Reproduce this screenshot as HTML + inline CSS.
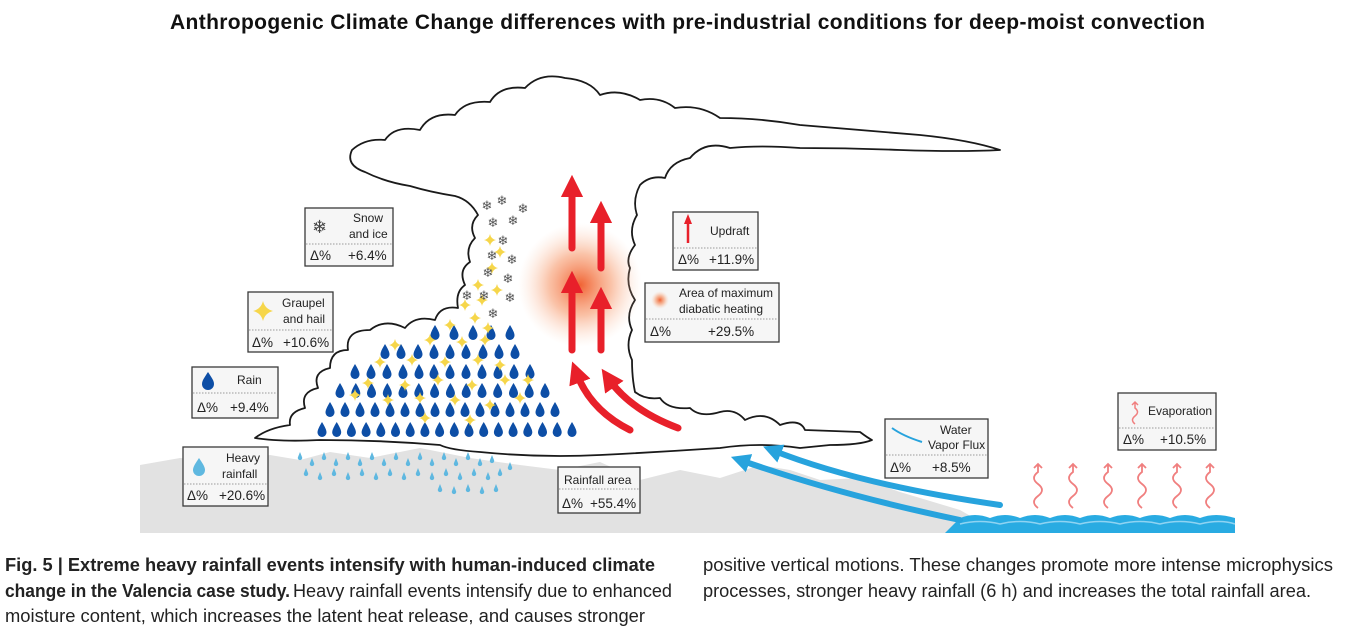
<!DOCTYPE html>
<html><head><meta charset="utf-8"><style>
html,body{margin:0;padding:0;background:#fff;}
svg{display:block;}
.bx{fill:#f6f6f6;stroke:#3a3a3a;stroke-width:1.3;}
.dv{stroke:#999;stroke-width:1;stroke-dasharray:1.5 1.5;}
.t{font-family:"Liberation Sans",sans-serif;font-size:12px;fill:#222;}
.d{font-family:"Liberation Sans",sans-serif;font-size:13.5px;fill:#222;}
.cap{font-family:"Liberation Sans Narrow","Liberation Sans",sans-serif;font-size:18px;fill:#222;}
</style></head><body>
<svg width="1353" height="631" viewBox="0 0 1353 631" xmlns="http://www.w3.org/2000/svg">
<defs>
<path id="dr" d="M0,-8 C3,-3 4.5,0 4.5,2.5 A4.5,4.5 0 0 1 -4.5,2.5 C-4.5,0 -3,-3 0,-8Z"/>
<path id="st" d="M0,-6 Q1,-1 6,0 Q1,1 0,6 Q-1,1 -6,0 Q-1,-1 0,-6Z"/>
<radialGradient id="glow"><stop offset="0" stop-color="#f05a28" stop-opacity="0.95"/><stop offset="0.5" stop-color="#f6905f" stop-opacity="0.55"/><stop offset="1" stop-color="#fbd0b8" stop-opacity="0"/></radialGradient>
<marker id="ar" viewBox="0 0 10 10" refX="5" refY="5" markerWidth="3.2" markerHeight="3.4" orient="auto"><path d="M0,0 L10,5 L0,10Z" fill="#e8202a"/></marker>
<marker id="ab" viewBox="0 0 10 10" refX="5" refY="5" markerWidth="3.2" markerHeight="3.4" orient="auto"><path d="M0,0 L10,5 L0,10Z" fill="#27a3dd"/></marker>
</defs>

<text x="170" y="29" textLength="1035" font-family="Liberation Sans,sans-serif" font-weight="bold" font-size="21" fill="#111">Anthropogenic Climate Change differences with pre-industrial conditions for deep-moist convection</text>

<path d="M140,465 L180,458 L230,462 L270,455 L300,460 L330,452 L370,458 L420,448 L470,458 L520,465 L560,470 L600,462 L640,480 L680,470 L720,478 L760,465 L790,470 L820,480 L860,478 L900,492 L960,510 L1000,533 L140,533Z" fill="#e2e2e2"/>
<path d="M960,518 Q975,512 990,518 Q1005,512 1020,518 Q1035,512 1050,518 Q1065,512 1080,518 Q1095,512 1110,518 Q1125,512 1140,518 Q1155,512 1170,518 Q1185,512 1200,518 Q1215,512 1235,518 L1235,533 L945,533Z" fill="#29abe2"/>
<path d="M960,524 Q980,519 1000,524 Q1020,519 1040,524 Q1060,519 1080,524 Q1100,519 1120,524 Q1140,519 1160,524 Q1180,519 1200,524 Q1220,519 1235,524" fill="none" stroke="#8fd3f2" stroke-width="1.5"/>

<path d="M255,438 Q268,428 290,425 Q288,412 305,408 Q300,392 318,388 Q312,372 330,368 Q330,350 348,350 Q345,330 370,330 Q385,318 405,328 Q415,315 435,320 Q440,305 458,308 Q455,292 465,285 Q458,270 470,262 Q465,248 475,238 Q468,225 478,215 Q470,200 455,196 Q430,192 410,186 Q385,182 365,172 Q345,165 352,150 Q365,138 385,140 Q395,125 420,130 Q430,112 455,115 Q465,100 490,102 Q500,85 525,88 Q540,72 565,78 Q590,80 600,95 Q620,88 640,100 Q660,96 675,108 Q700,104 720,118 Q760,118 800,125 Q860,130 920,135 Q970,140 1000,150 Q960,152 900,150 Q850,148 800,148 Q760,145 730,148 Q705,140 690,158 Q670,162 665,178 Q650,175 640,185 Q632,200 637,215 Q628,230 635,245 Q625,258 630,268 Q625,285 635,300 Q625,315 632,330 Q625,345 632,360 Q632,378 635,392 Q645,400 660,398 Q668,410 690,408 Q700,418 720,412 Q735,408 745,420 Q765,410 780,425 Q800,418 805,430 L860,432 Q868,438 872,440 Q860,445 830,445 L800,448 Q760,442 720,448 Q660,452 600,455 Q540,458 480,452 Q450,450 440,445 Q380,440 320,440 Q280,442 255,438Z" fill="#fff" stroke="#1a1a1a" stroke-width="1.8" stroke-linejoin="round"/>

<circle cx="580" cy="285" r="62" fill="url(#glow)"/>

<g fill="#0d4ea6">
<use href="#dr" x="322" y="430"/><use href="#dr" x="336.7" y="430"/><use href="#dr" x="351.4" y="430"/><use href="#dr" x="366.1" y="430"/><use href="#dr" x="380.8" y="430"/><use href="#dr" x="395.5" y="430"/><use href="#dr" x="410.2" y="430"/><use href="#dr" x="424.9" y="430"/><use href="#dr" x="439.6" y="430"/><use href="#dr" x="454.3" y="430"/><use href="#dr" x="469" y="430"/><use href="#dr" x="483.7" y="430"/><use href="#dr" x="498.4" y="430"/><use href="#dr" x="513.1" y="430"/><use href="#dr" x="527.8" y="430"/><use href="#dr" x="542.5" y="430"/><use href="#dr" x="557.2" y="430"/><use href="#dr" x="572" y="430"/>
<use href="#dr" x="330" y="410"/><use href="#dr" x="345" y="410"/><use href="#dr" x="360" y="410"/><use href="#dr" x="375" y="410"/><use href="#dr" x="390" y="410"/><use href="#dr" x="405" y="410"/><use href="#dr" x="420" y="410"/><use href="#dr" x="435" y="410"/><use href="#dr" x="450" y="410"/><use href="#dr" x="465" y="410"/><use href="#dr" x="480" y="410"/><use href="#dr" x="495" y="410"/><use href="#dr" x="510" y="410"/><use href="#dr" x="525" y="410"/><use href="#dr" x="540" y="410"/><use href="#dr" x="555" y="410"/>
<use href="#dr" x="340" y="391"/><use href="#dr" x="355.8" y="391"/><use href="#dr" x="371.5" y="391"/><use href="#dr" x="387.3" y="391"/><use href="#dr" x="403" y="391"/><use href="#dr" x="418.8" y="391"/><use href="#dr" x="434.6" y="391"/><use href="#dr" x="450.4" y="391"/><use href="#dr" x="466.2" y="391"/><use href="#dr" x="482" y="391"/><use href="#dr" x="497.7" y="391"/><use href="#dr" x="513.5" y="391"/><use href="#dr" x="529.2" y="391"/><use href="#dr" x="545" y="391"/>
<use href="#dr" x="355" y="372"/><use href="#dr" x="371" y="372"/><use href="#dr" x="387" y="372"/><use href="#dr" x="403" y="372"/><use href="#dr" x="419" y="372"/><use href="#dr" x="434" y="372"/><use href="#dr" x="450" y="372"/><use href="#dr" x="466" y="372"/><use href="#dr" x="482" y="372"/><use href="#dr" x="498" y="372"/><use href="#dr" x="514" y="372"/><use href="#dr" x="530" y="372"/>
<use href="#dr" x="385" y="352"/><use href="#dr" x="401" y="352"/><use href="#dr" x="418" y="352"/><use href="#dr" x="434" y="352"/><use href="#dr" x="450" y="352"/><use href="#dr" x="466" y="352"/><use href="#dr" x="483" y="352"/><use href="#dr" x="499" y="352"/><use href="#dr" x="515" y="352"/>
<use href="#dr" x="435" y="333"/><use href="#dr" x="454" y="333"/><use href="#dr" x="473" y="333"/><use href="#dr" x="491" y="333"/><use href="#dr" x="510" y="333"/>
</g>
<g fill="#5fb8e0">
<path d="M300,452 l2,5 a2.2,2.2 0 1 1 -4,0z M312,458 l2,5 a2.2,2.2 0 1 1 -4,0z M324,452 l2,5 a2.2,2.2 0 1 1 -4,0z M336,458 l2,5 a2.2,2.2 0 1 1 -4,0z M348,452 l2,5 a2.2,2.2 0 1 1 -4,0z M360,458 l2,5 a2.2,2.2 0 1 1 -4,0z M372,452 l2,5 a2.2,2.2 0 1 1 -4,0z M384,458 l2,5 a2.2,2.2 0 1 1 -4,0z M396,452 l2,5 a2.2,2.2 0 1 1 -4,0z M408,458 l2,5 a2.2,2.2 0 1 1 -4,0z M420,452 l2,5 a2.2,2.2 0 1 1 -4,0z M432,458 l2,5 a2.2,2.2 0 1 1 -4,0z M444,452 l2,5 a2.2,2.2 0 1 1 -4,0z M456,458 l2,5 a2.2,2.2 0 1 1 -4,0z M468,452 l2,5 a2.2,2.2 0 1 1 -4,0z M480,458 l2,5 a2.2,2.2 0 1 1 -4,0z M492,455 l2,5 a2.2,2.2 0 1 1 -4,0z
M306,468 l2,5 a2.2,2.2 0 1 1 -4,0z M320,472 l2,5 a2.2,2.2 0 1 1 -4,0z M334,468 l2,5 a2.2,2.2 0 1 1 -4,0z M348,472 l2,5 a2.2,2.2 0 1 1 -4,0z M362,468 l2,5 a2.2,2.2 0 1 1 -4,0z M376,472 l2,5 a2.2,2.2 0 1 1 -4,0z M390,468 l2,5 a2.2,2.2 0 1 1 -4,0z M404,472 l2,5 a2.2,2.2 0 1 1 -4,0z M418,468 l2,5 a2.2,2.2 0 1 1 -4,0z M432,472 l2,5 a2.2,2.2 0 1 1 -4,0z M446,468 l2,5 a2.2,2.2 0 1 1 -4,0z M460,472 l2,5 a2.2,2.2 0 1 1 -4,0z M474,468 l2,5 a2.2,2.2 0 1 1 -4,0z M488,472 l2,5 a2.2,2.2 0 1 1 -4,0z M500,468 l2,5 a2.2,2.2 0 1 1 -4,0z
M440,484 l2,5 a2.2,2.2 0 1 1 -4,0z M454,486 l2,5 a2.2,2.2 0 1 1 -4,0z M468,484 l2,5 a2.2,2.2 0 1 1 -4,0z M482,486 l2,5 a2.2,2.2 0 1 1 -4,0z M496,484 l2,5 a2.2,2.2 0 1 1 -4,0z M510,462 l2,5 a2.2,2.2 0 1 1 -4,0z"/>
</g>
<g fill="#f6d64a">
<use href="#st" x="355" y="395"/><use href="#st" x="368" y="383"/><use href="#st" x="388" y="400"/><use href="#st" x="405" y="385"/><use href="#st" x="420" y="398"/><use href="#st" x="438" y="380"/><use href="#st" x="455" y="400"/><use href="#st" x="472" y="385"/><use href="#st" x="490" y="405"/><use href="#st" x="505" y="380"/><use href="#st" x="520" y="398"/><use href="#st" x="528" y="380"/><use href="#st" x="380" y="362"/><use href="#st" x="412" y="360"/><use href="#st" x="445" y="362"/><use href="#st" x="478" y="360"/><use href="#st" x="500" y="365"/><use href="#st" x="395" y="345"/><use href="#st" x="430" y="340"/><use href="#st" x="462" y="342"/><use href="#st" x="485" y="340"/><use href="#st" x="450" y="325"/><use href="#st" x="475" y="318"/><use href="#st" x="488" y="328"/><use href="#st" x="465" y="305"/><use href="#st" x="482" y="300"/><use href="#st" x="497" y="290"/><use href="#st" x="478" y="285"/><use href="#st" x="492" y="268"/><use href="#st" x="500" y="252"/><use href="#st" x="490" y="240"/><use href="#st" x="470" y="420"/><use href="#st" x="425" y="418"/>
</g>
<g font-family="DejaVu Sans,sans-serif" font-size="13" fill="#555" text-anchor="middle">
<text x="487" y="210">❄</text><text x="502" y="205">❄</text><text x="523" y="213">❄</text><text x="493" y="227">❄</text><text x="513" y="225">❄</text><text x="503" y="245">❄</text><text x="492" y="260">❄</text><text x="512" y="264">❄</text><text x="488" y="277">❄</text><text x="508" y="283">❄</text><text x="467" y="300">❄</text><text x="484" y="300">❄</text><text x="510" y="302">❄</text><text x="493" y="318">❄</text>
</g>

<g stroke="#e8202a" stroke-width="7" fill="none" stroke-linecap="round" marker-end="url(#ar)">
<path d="M572,248 L572,186"/>
<path d="M601,268 L601,212"/>
<path d="M572,350 L572,282"/>
<path d="M601,350 L601,298"/>
<path d="M630,430 Q590,410 576,372"/>
<path d="M678,428 Q630,410 608,378"/>
</g>
<g stroke="#27a3dd" stroke-width="6" fill="none" stroke-linecap="round" marker-end="url(#ab)">
<path d="M960,520 Q840,495 740,460"/>
<path d="M1000,505 Q860,485 772,450"/>
</g>
<g stroke="#f07f7f" stroke-width="1.8" fill="none">
<path d="M1038,508 q-8,-6 0,-12 q8,-6 0,-12 q-8,-6 0,-12 l0,-8 m-4,4 l4,-4 l4,4"/>
<path d="M1073,508 q-8,-6 0,-12 q8,-6 0,-12 q-8,-6 0,-12 l0,-8 m-4,4 l4,-4 l4,4"/>
<path d="M1108,508 q-8,-6 0,-12 q8,-6 0,-12 q-8,-6 0,-12 l0,-8 m-4,4 l4,-4 l4,4"/>
<path d="M1142,508 q-8,-6 0,-12 q8,-6 0,-12 q-8,-6 0,-12 l0,-8 m-4,4 l4,-4 l4,4"/>
<path d="M1177,508 q-8,-6 0,-12 q8,-6 0,-12 q-8,-6 0,-12 l0,-8 m-4,4 l4,-4 l4,4"/>
<path d="M1210,508 q-8,-6 0,-12 q8,-6 0,-12 q-8,-6 0,-12 l0,-8 m-4,4 l4,-4 l4,4"/>
</g>

<rect class="bx" x="305" y="208" width="88" height="58"/><line class="dv" x1="306" y1="244" x2="392" y2="244"/>
<text x="312" y="233" font-family="DejaVu Sans,sans-serif" font-size="18" fill="#444">❄</text>
<text class="t" x="353" y="222">Snow</text><text class="t" x="349" y="238">and ice</text>
<text class="d" x="310" y="260">Δ%</text><text class="d" x="348" y="260">+6.4%</text>

<rect class="bx" x="248" y="292" width="85" height="60"/><line class="dv" x1="249" y1="330" x2="332" y2="330"/>
<path d="M263,301 Q265,309 273,311 Q265,313 263,321 Q261,313 253,311 Q261,309 263,301Z" fill="#f6d64a"/>
<text class="t" x="282" y="307">Graupel</text><text class="t" x="283" y="323">and hail</text>
<text class="d" x="252" y="347">Δ%</text><text class="d" x="283" y="347">+10.6%</text>

<rect class="bx" x="192" y="367" width="86" height="51"/><line class="dv" x1="193" y1="393" x2="277" y2="393"/>
<path d="M208,372 C212,378 214,381 214,384 A6,6 0 0 1 202,384 C202,381 204,378 208,372Z" fill="#0d4ea6"/>
<text class="t" x="237" y="384">Rain</text>
<text class="d" x="197" y="412">Δ%</text><text class="d" x="230" y="412">+9.4%</text>

<rect class="bx" x="183" y="447" width="85" height="59"/><line class="dv" x1="184" y1="484" x2="267" y2="484"/>
<path d="M199,458 C203,464 205,467 205,470 A6,6 0 0 1 193,470 C193,467 195,464 199,458Z" fill="#5fb8e0"/>
<text class="t" x="226" y="462">Heavy</text><text class="t" x="222" y="478">rainfall</text>
<text class="d" x="187" y="500">Δ%</text><text class="d" x="219" y="500">+20.6%</text>

<rect class="bx" x="558" y="467" width="82" height="46"/><line class="dv" x1="559" y1="489" x2="639" y2="489"/>
<text class="t" x="564" y="484">Rainfall area</text>
<text class="d" x="562" y="508">Δ%</text><text class="d" x="590" y="508">+55.4%</text>

<rect class="bx" x="673" y="212" width="85" height="58"/><line class="dv" x1="674" y1="248" x2="757" y2="248"/>
<path d="M688,243 L688,222" stroke="#e8202a" stroke-width="2.5"/><path d="M684,224 L688,214 L692,224Z" fill="#e8202a"/>
<text class="t" x="710" y="235">Updraft</text>
<text class="d" x="678" y="264">Δ%</text><text class="d" x="709" y="264">+11.9%</text>

<rect class="bx" x="645" y="283" width="134" height="59"/><line class="dv" x1="646" y1="319" x2="778" y2="319"/>
<circle cx="660" cy="300" r="9" fill="url(#glow)"/>
<text class="t" x="679" y="297">Area of maximum</text><text class="t" x="679" y="313">diabatic heating</text>
<text class="d" x="650" y="336">Δ%</text><text class="d" x="708" y="336">+29.5%</text>

<rect class="bx" x="885" y="419" width="103" height="59"/><line class="dv" x1="886" y1="455" x2="987" y2="455"/>
<path d="M892,428 Q903,436 922,442" stroke="#27a3dd" stroke-width="2" fill="none"/>
<text class="t" x="940" y="434">Water</text><text class="t" x="928" y="449">Vapor Flux</text>
<text class="d" x="890" y="472">Δ%</text><text class="d" x="932" y="472">+8.5%</text>

<rect class="bx" x="1118" y="393" width="98" height="57"/><line class="dv" x1="1119" y1="428" x2="1215" y2="428"/>
<path d="M1135,424 q-5,-4 0,-8 q5,-4 0,-8 l0,-6 m-3,3 l3,-3 l3,3" stroke="#f07f7f" stroke-width="1.5" fill="none"/>
<text class="t" x="1148" y="415">Evaporation</text>
<text class="d" x="1123" y="444">Δ%</text><text class="d" x="1160" y="444">+10.5%</text>

<text class="cap" x="5" y="571" font-weight="bold" textLength="650" lengthAdjust="spacingAndGlyphs">Fig. 5 | Extreme heavy rainfall events intensify with human-induced climate</text>
<text class="cap" x="5" y="597" font-weight="bold" textLength="285" lengthAdjust="spacingAndGlyphs">change in the Valencia case study.</text>
<text class="cap" x="293" y="597" textLength="379" lengthAdjust="spacingAndGlyphs">Heavy rainfall events intensify due to enhanced</text>
<text class="cap" x="5" y="622" textLength="640" lengthAdjust="spacingAndGlyphs">moisture content, which increases the latent heat release, and causes stronger</text>
<text class="cap" x="703" y="571" textLength="630" lengthAdjust="spacingAndGlyphs">positive vertical motions. These changes promote more intense microphysics</text>
<text class="cap" x="703" y="597" textLength="608" lengthAdjust="spacingAndGlyphs">processes, stronger heavy rainfall (6 h) and increases the total rainfall area.</text>
</svg>
</body></html>
